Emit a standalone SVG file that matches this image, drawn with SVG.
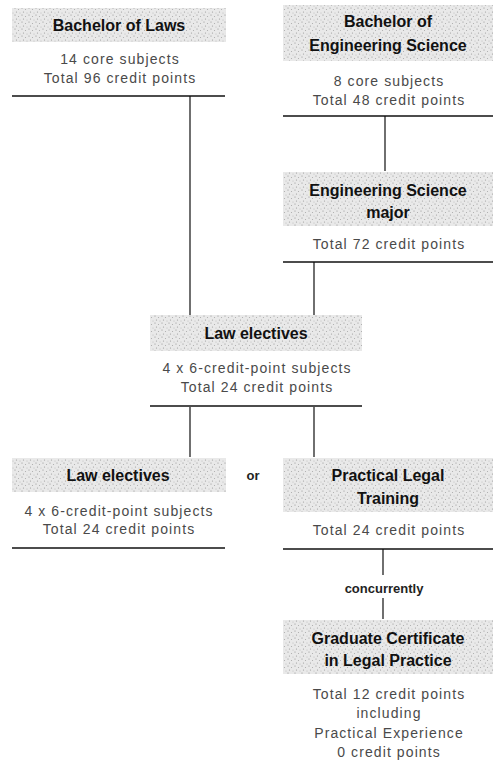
<svg xmlns="http://www.w3.org/2000/svg" width="499" height="767" viewBox="0 0 499 767">
<defs>
<pattern id="stip" width="7" height="7" patternUnits="userSpaceOnUse">
<rect width="7" height="7" fill="#e9e9e9"/>
<circle cx="1" cy="1" r="0.6" fill="#8f8f8f"/>
<circle cx="4.5" cy="2.5" r="0.55" fill="#a8a8a8"/>
<circle cx="2.5" cy="5" r="0.6" fill="#999"/>
<circle cx="6" cy="6" r="0.5" fill="#b5b5b5"/>
</pattern>
<style>
.band{fill:url(#stip)}
.t{font-family:"Liberation Sans",Arial,sans-serif;font-weight:bold;font-size:16px;fill:#111;text-anchor:middle}
.b{font-family:"Liberation Sans",Arial,sans-serif;font-size:14px;letter-spacing:1.1px;fill:#4a4a4a;text-anchor:middle}
.s{font-family:"Liberation Sans",Arial,sans-serif;font-weight:bold;font-size:13px;fill:#222;text-anchor:middle}
.rule{stroke:#111;stroke-width:1.5;fill:none}
.conn{stroke:#222;stroke-width:1.3;fill:none}
</style>
</defs>
<rect width="499" height="767" fill="#fff"/>
<g id="connectors">
<line class="conn" x1="190" y1="96" x2="190" y2="315"/>
<line class="conn" x1="385" y1="116" x2="385" y2="171"/>
<line class="conn" x1="314" y1="262" x2="314" y2="315"/>
<line class="conn" x1="190" y1="407" x2="190" y2="457"/>
<line class="conn" x1="314" y1="407" x2="314" y2="457"/>
<line class="conn" x1="383" y1="549" x2="383" y2="575"/>
<line class="conn" x1="383" y1="598" x2="383" y2="619"/>
<text class="s" x="384" y="593">concurrently</text>
<text class="s" x="253" y="480">or</text>
</g>
<g id="n1">
<rect class="band" x="12" y="8" width="214" height="34"/>
<text class="t" x="119" y="31">Bachelor of Laws</text>
<text class="b" x="120" y="64">14 core subjects</text>
<text class="b" x="120" y="83">Total 96 credit points</text>
<line class="rule" x1="12" y1="96" x2="225" y2="96"/>
</g>
<g id="n2">
<rect class="band" x="283" y="5" width="210" height="56"/>
<text class="t" x="388" y="27">Bachelor of</text>
<text class="t" x="388" y="51">Engineering Science</text>
<text class="b" x="389" y="86">8 core subjects</text>
<text class="b" x="389" y="105">Total 48 credit points</text>
<line class="rule" x1="283" y1="116" x2="493" y2="116"/>
</g>
<g id="n3">
<rect class="band" x="283" y="172" width="210" height="54"/>
<text class="t" x="388" y="196">Engineering Science</text>
<text class="t" x="388" y="218">major</text>
<text class="b" x="389" y="249">Total 72 credit points</text>
<line class="rule" x1="283" y1="262" x2="493" y2="262"/>
</g>
<g id="n4">
<rect class="band" x="150" y="315" width="212" height="36"/>
<text class="t" x="256" y="339">Law electives</text>
<text class="b" x="257" y="373">4 x 6-credit-point subjects</text>
<text class="b" x="257" y="392">Total 24 credit points</text>
<line class="rule" x1="150" y1="406" x2="362" y2="406"/>
</g>
<g id="n5">
<rect class="band" x="12" y="458" width="214" height="34"/>
<text class="t" x="118" y="481">Law electives</text>
<text class="b" x="119" y="516">4 x 6-credit-point subjects</text>
<text class="b" x="119" y="534">Total 24 credit points</text>
<line class="rule" x1="12" y1="548" x2="225" y2="548"/>
</g>
<g id="n6">
<rect class="band" x="283" y="458" width="210" height="54"/>
<text class="t" x="388" y="481">Practical Legal</text>
<text class="t" x="388" y="504">Training</text>
<text class="b" x="389" y="535">Total 24 credit points</text>
<line class="rule" x1="283" y1="549" x2="493" y2="549"/>
</g>
<g id="n7">
<rect class="band" x="283" y="620" width="210" height="54"/>
<text class="t" x="388" y="644">Graduate Certificate</text>
<text class="t" x="388" y="666">in Legal Practice</text>
<text class="b" x="389" y="699">Total 12 credit points</text>
<text class="b" x="389" y="718">including</text>
<text class="b" x="389" y="738">Practical Experience</text>
<text class="b" x="389" y="757">0 credit points</text>
</g>
</svg>
